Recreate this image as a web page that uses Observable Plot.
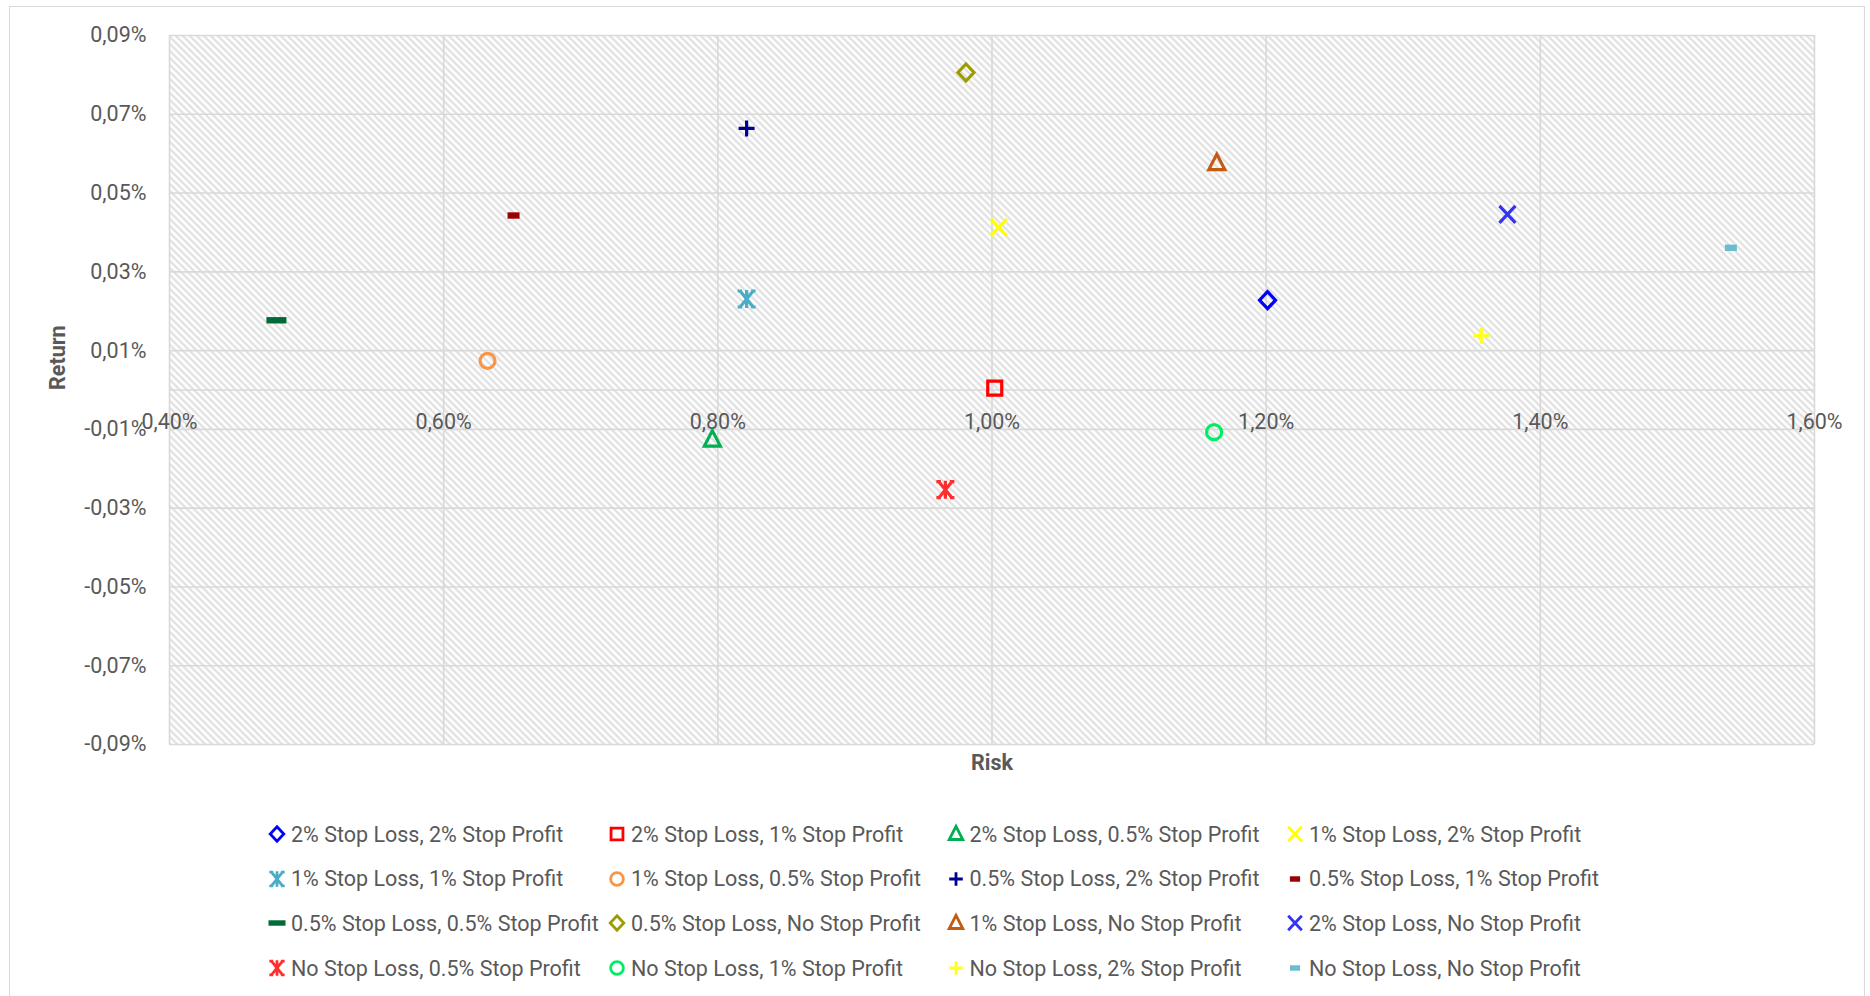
<!DOCTYPE html>
<html>
<head>
<meta charset="utf-8">
<script src="https://cdn.jsdelivr.net/npm/d3@7"></script>
<script src="https://cdn.jsdelivr.net/npm/@observablehq/plot@0.6"></script>
<style>
  html, body { margin: 0; padding: 0; background: #fff; }
  #wrap { position: relative; width: 1870px; height: 996px; overflow: hidden; font-family: Roboto, "Noto Sans", sans-serif; color: #595959; }
  #border { position: absolute; left: 9px; top: 6px; width: 1856px; height: 1010px; border: 1.5px solid #d9d9d9; box-sizing: border-box; }
  #chart { position: absolute; left: 0; top: 0; }
  .item { position: absolute; height: 30px; display: flex; align-items: center; white-space: nowrap; font-size: 21.5px; }
  .item span { margin-left: 4px; }
</style>
</head>
<body>
<div id="wrap">
  <div id="border"></div>
  <div id="chart"></div>
  <div id="legend"></div>
</div>
<script>
// ---- data ----
const series = [
  "2% Stop Loss, 2% Stop Profit", "2% Stop Loss, 1% Stop Profit", "2% Stop Loss, 0.5% Stop Profit", "1% Stop Loss, 2% Stop Profit",
  "1% Stop Loss, 1% Stop Profit", "1% Stop Loss, 0.5% Stop Profit", "0.5% Stop Loss, 2% Stop Profit", "0.5% Stop Loss, 1% Stop Profit",
  "0.5% Stop Loss, 0.5% Stop Profit", "0.5% Stop Loss, No Stop Profit", "1% Stop Loss, No Stop Profit", "2% Stop Loss, No Stop Profit",
  "No Stop Loss, 0.5% Stop Profit", "No Stop Loss, 1% Stop Profit", "No Stop Loss, 2% Stop Profit", "No Stop Loss, No Stop Profit"
];
const risk = [1.201, 1.002, 0.796, 1.005, 0.821, 0.632, 0.821, 0.651, 0.478, 0.981, 1.164, 1.376, 0.966, 1.162, 1.357, 1.539];
const ret  = [0.0228, 0.0005, -0.0126, 0.0413, 0.0231, 0.0074, 0.0664, 0.0443, 0.0177, 0.0806, 0.0576, 0.0446, -0.0253, -0.0107, 0.0138, 0.0361];
const colors = ["#0000FF", "#FF0000", "#00B050", "#FFFF00", "#4BACC6", "#F79646", "#000090", "#9B0000",
                "#006B35", "#9C9C00", "#C55A11", "#3333F5", "#FF2E2E", "#00EE66", "#FFFF22", "#6CBCD0"];
const kinds = ["diamond", "square", "triangle", "times", "star", "circle", "plus", "dashShort",
               "dashLong", "diamond", "triangle", "times", "star", "circle", "plus", "dashShort"];
const xTicks = [0.4, 0.6, 0.8, 1.0, 1.2, 1.4, 1.6];
const yTicks = [-0.09, -0.07, -0.05, -0.03, -0.01, 0.01, 0.03, 0.05, 0.07, 0.09];
const xLabel = "Risk";
const yLabel = "Return";

// ---- marker shapes ----
const shapes = {
  diamond: {draw(c) { c.moveTo(0, -8.5); c.lineTo(8, 0); c.lineTo(0, 8.5); c.lineTo(-8, 0); c.closePath(); }},
  square: {draw(c) { c.moveTo(-7, -7); c.lineTo(7, -7); c.lineTo(7, 7); c.lineTo(-7, 7); c.closePath(); }},
  triangle: {draw(c) { c.moveTo(0, -9); c.lineTo(8, 6.5); c.lineTo(-8, 6.5); c.closePath(); }},
  circle: {draw(c) { c.moveTo(7.5, 0); c.arc(0, 0, 7.5, 0, 2 * Math.PI); c.closePath(); }},
  times: {draw(c) { c.moveTo(-8, -8.5); c.lineTo(8, 8.5); c.moveTo(8, -8.5); c.lineTo(-8, 8.5); }},
  plus: {draw(c) { c.moveTo(-8, 0); c.lineTo(8, 0); c.moveTo(0, -8); c.lineTo(0, 8); }},
  star: {draw(c) { c.moveTo(-6.5, -8); c.lineTo(6.5, 8); c.moveTo(6.5, -8); c.lineTo(-6.5, 8); c.moveTo(0, -9); c.lineTo(0, 9);
                   c.moveTo(-4.5, -8); c.lineTo(-9, -8); c.moveTo(4.5, -8); c.lineTo(9, -8); c.moveTo(-4.5, 8); c.lineTo(-9, 8); c.moveTo(4.5, 8); c.lineTo(9, 8); }},
  dashLong: {draw(c) { c.moveTo(-10, -3.2); c.lineTo(10, -3.2); c.lineTo(10, 3.2); c.lineTo(-10, 3.2); c.closePath(); }},
  dashShort: {draw(c) { c.moveTo(-6, -3.2); c.lineTo(6, -3.2); c.lineTo(6, 3.2); c.lineTo(-6, 3.2); c.closePath(); }}
};
const filledKinds = new Set(["dashLong", "dashShort"]);

const rows = series.map((name, i) => ({name, risk: risk[i], ret: ret[i], color: colors[i], kind: kinds[i]}));
const fmt = d => d.toFixed(2).replace(".", ",") + "%";

const chart = Plot.plot({
  width: 1870,
  height: 790,
  marginLeft: 169,
  marginRight: 56,
  marginTop: 35,
  marginBottom: 46,
  style: {fontFamily: "Roboto, 'Noto Sans', sans-serif", fontSize: "21.5px", color: "#595959", background: "transparent", overflow: "visible"},
  x: {domain: [0.4, 1.6], axis: null, label: null},
  y: {domain: [-0.09, 0.09], axis: null, label: null},
  symbol: {domain: series, range: kinds.map(k => shapes[k])},
  marks: [
    Plot.frame({fill: "url(#hatch)", stroke: "none"}),
    Plot.ruleX(xTicks, {stroke: "#d9d9d9", strokeWidth: 1.6}),
    Plot.ruleY(yTicks, {stroke: "#d9d9d9", strokeWidth: 1.6}),
    Plot.ruleY([0], {stroke: "#d9d9d9", strokeWidth: 1.6}),
    Plot.axisY(yTicks, {tickSize: 0, tickPadding: 23, tickFormat: fmt, fontSize: 21.5, fill: "#595959", label: null}),
    Plot.text(xTicks, {x: d => d, y: () => 0, text: fmt, dy: 32, fontSize: 21.5, fill: "#595959"}),
    Plot.text([xLabel], {frameAnchor: "bottom", dy: 25, fontWeight: "bold", fontSize: 21.5, fill: "#595959"}),
    Plot.text([yLabel], {frameAnchor: "left", dx: -111, rotate: -90, fontWeight: "bold", fontSize: 21.5, fill: "#595959"}),
    Plot.dot(rows.filter(d => !filledKinds.has(d.kind)), {x: "risk", y: "ret", symbol: "name", r: 5, fill: "none", stroke: "color", strokeWidth: 3.2}),
    Plot.dot(rows.filter(d => filledKinds.has(d.kind)), {x: "risk", y: "ret", symbol: "name", r: 5, fill: "color", stroke: "none"})
  ]
});

// hatch pattern for the plot background
const ns = "http://www.w3.org/2000/svg";
const defs = document.createElementNS(ns, "defs");
defs.innerHTML = `<pattern id="hatch" patternUnits="userSpaceOnUse" width="7" height="7">
  <rect width="7" height="7" fill="#ffffff"/>
  <path d="M-1,-1 L8,8 M-1,6 L1,8 M6,-1 L8,1" stroke="#dddddd" stroke-width="2"/>
</pattern>`;
chart.insertBefore(defs, chart.firstChild);
document.getElementById("chart").appendChild(chart);

// legend
const legendX = [277, 617, 955.5, 1295];
const legendY = [834, 878.5, 923, 968];
const legend = document.getElementById("legend");
rows.forEach((d, i) => {
  const col = i % 4, row = Math.floor(i / 4);
  const item = document.createElement("div");
  item.className = "item";
  item.style.left = (legendX[col] - 10) + "px";
  item.style.top = (legendY[row] - 15) + "px";
  const svg = d3.create("svg").attr("width", 20).attr("height", 20).style("overflow", "visible");
  const filled = filledKinds.has(d.kind);
  svg.append("path")
    .attr("transform", "translate(10,10) scale(0.85)")
    .attr("d", d3.symbol().type(shapes[d.kind])())
    .attr("fill", filled ? d.color : "none")
    .attr("stroke", filled ? "none" : d.color)
    .attr("stroke-width", 3.3);
  item.appendChild(svg.node());
  const span = document.createElement("span");
  span.textContent = d.name;
  item.appendChild(span);
  legend.appendChild(item);
});
</script>
</body>
</html>
